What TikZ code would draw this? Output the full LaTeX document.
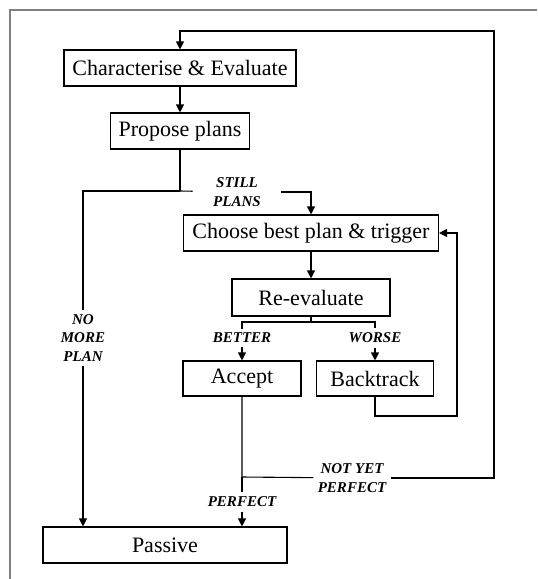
\documentclass[tikz,border=0pt]{standalone}
\usepackage{fontspec}
\setmainfont{Liberation Serif}
\usetikzlibrary{arrows.meta}
\tikzset{
  stepbox/.style={draw,inner sep=0pt,font=\fontsize{11}{13}\selectfont},
  cond/.style={inner sep=2pt,align=center,font=\fontsize{7.5}{9.3}\selectfont\bfseries\itshape},
}
\begin{document}
\begin{tikzpicture}[x=0.5pt,y=-0.5pt,>={Triangle[length=4pt,width=4pt]},line width=0.55pt]
\useasboundingbox (0,0) rectangle (537,579);
\draw[gray] (10,579) -- (10,10) -- (537,10);
%
\node[stepbox,minimum width=116pt,minimum height=18pt](char) at (180,68) {Characterise \& Evaluate};
\node[stepbox,minimum width=69.5pt,minimum height=18pt](propose) at (180,131) {Propose plans};
\draw[->](char) -- (propose);
%
\coordinate(fork1) at (180,191);
\node[cond,inner xsep=10pt](still) at (237,192) {STILL\\PLANS};
\node[cond](nomore) at (83,338) {NO\\MORE\\PLAN};
\draw(propose) -- (fork1);
\draw(fork1) -- (still);
\draw(fork1) -| (nomore);
%
\node[stepbox,minimum width=127.5pt,minimum height=18pt](choose) at (311,233) {Choose best plan \& trigger};
\draw[->](still) -| (choose);
%
\node[stepbox,minimum width=79pt,minimum height=18.5pt](reeval) at (311,297.5) {Re-evaluate};
\draw[->](choose) -- (reeval);
%
\coordinate(fork2) at (311,322);
\node[cond](better) at (242,338) {BETTER};
\node[cond](worse) at (375,338) {WORSE};
\draw(reeval) -- (fork2);
\draw(fork2) -| (better);
\draw(fork2) -| (worse);
%
\node[stepbox,minimum width=59pt,minimum height=17.5pt](accept) at (242,378.5) {Accept};
\node[stepbox,minimum width=58.5pt,minimum height=17.5pt](backtrack) at (375,378.5) {Backtrack};
\draw[->](better) -- (accept);
\draw[->](worse) -- (backtrack);
%
\coordinate(bt) at (457,416);
\draw[->](backtrack) |- (bt) |- (choose.east);
%
\coordinate(acc) at (242,477);
\coordinate(top) at (494,31);
\node[cond](notyet) at (352,478) {NOT YET\\PERFECT};
\node[cond](perfect) at (242,502) {PERFECT};
\draw(accept) -- (acc) -- (notyet);
\draw(acc) -- (perfect);
\draw[->](notyet) -| (top) -| (char);
%
\node[stepbox,minimum width=122pt,minimum height=18pt](passive) at (165,545) {Passive};
\draw[->](perfect) -- (perfect |- passive.north);
\draw[->](nomore) -- (nomore |- passive.north);
\end{tikzpicture}
\end{document}
